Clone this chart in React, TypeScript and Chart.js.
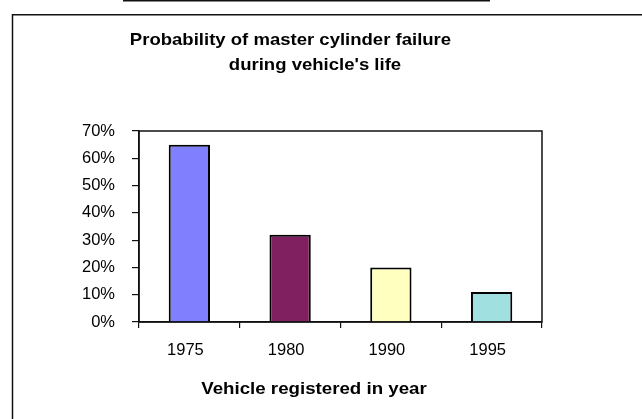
import React, { useEffect, useRef } from "react";
import { Chart, registerables } from "chart.js";

Chart.register(...registerables);

const categories = ["1975", "1980", "1990", "1995"];
const failureProbability = [65, 32, 20, 11];
const barColors = ["#8080FF", "#802060", "#FFFFC0", "#A0E0E0"];
const yMax = 70;
const yStep = 10;
const titleLines = ["Probability of master cylinder failure", "during vehicle's life"];
const xAxisTitle = "Vehicle registered in year";

const FONT = '"Liberation Sans", Arial, Helvetica, sans-serif';

function stretchedText(ctx: any, text: string, x: number, y: number, sx: number) {
  ctx.save();
  ctx.translate(x, y);
  ctx.scale(sx, 1);
  ctx.fillText(text, 0, 0);
  ctx.restore();
}

const decorPlugin = {
  id: "decor",
  beforeDraw(chart: any) {
    const { ctx, width, height } = chart;
    ctx.save();
    ctx.fillStyle = "#ffffff";
    ctx.fillRect(0, 0, width, height);
    ctx.strokeStyle = "#111";
    ctx.lineWidth = 1.5;
    ctx.beginPath();
    ctx.moveTo(12.5, height + 2);
    ctx.lineTo(12.5, 14.75);
    ctx.lineTo(width + 2, 14.75);
    ctx.stroke();
    ctx.beginPath();
    ctx.moveTo(123, 0.75);
    ctx.lineTo(490, 0.75);
    ctx.stroke();
    ctx.restore();
  },
  afterDraw(chart: any) {
    const { ctx, chartArea } = chart;
    ctx.save();
    ctx.strokeStyle = "#111";
    ctx.lineWidth = 1.5;
    ctx.strokeRect(
      chartArea.left,
      chartArea.top,
      chartArea.right - chartArea.left,
      chartArea.bottom - chartArea.top
    );
    ctx.fillStyle = "#000";
    ctx.font = `bold 17px ${FONT}`;
    ctx.textAlign = "center";
    ctx.textBaseline = "alphabetic";
    stretchedText(ctx, titleLines[0], 290.5, 45, 1.09);
    stretchedText(ctx, titleLines[1], 315, 70, 1.09);
    stretchedText(ctx, xAxisTitle, 314, 394, 1.1);
    ctx.restore();
  },
};

export default function App() {
  const ref = useRef<HTMLCanvasElement | null>(null);

  useEffect(() => {
    if (!ref.current) return;
    const chart = new Chart(ref.current, {
      type: "bar",
      data: {
        labels: categories,
        datasets: [
          {
            data: failureProbability,
            backgroundColor: barColors,
            borderColor: "#000",
            borderWidth: 2,
            categoryPercentage: 1,
            barPercentage: 0.41,
          },
        ],
      },
      options: {
        animation: false,
        responsive: false,
        devicePixelRatio: 1,
        layout: { padding: { top: 131, right: 100, left: 0, bottom: 0 } },
        plugins: {
          legend: { display: false },
          title: { display: false },
          tooltip: { enabled: false },
        },
        scales: {
          x: {
            afterFit: (s: any) => {
              s.height = 97;
            },
            grid: {
              offset: true,
              drawOnChartArea: false,
              drawTicks: true,
              tickLength: 6,
              color: "#111",
              lineWidth: 1.2,
            },
            border: { display: true, color: "#111", width: 1.5 },
            ticks: {
              color: "#000",
              padding: 13,
              labelOffset: -4,
              font: { family: FONT, size: 16.5 },
            },
          },
          y: {
            min: 0,
            max: yMax,
            afterFit: (s: any) => {
              s.width = 139;
            },
            grid: {
              drawOnChartArea: false,
              drawTicks: true,
              tickLength: 7,
              color: "#111",
              lineWidth: 1.2,
            },
            border: { display: true, color: "#111", width: 1.5 },
            ticks: {
              stepSize: yStep,
              color: "#000",
              padding: 17,
              font: { family: FONT, size: 16.5 },
              callback: (v: any) => `${v}%`,
            },
          },
        },
      },
      plugins: [decorPlugin],
    });
    return () => chart.destroy();
  }, []);

  return (
    <div style={{ position: "absolute", left: 0, top: 0, width: 642, height: 419 }}>
      <canvas ref={ref} width={642} height={419} style={{ display: "block", width: 642, height: 419 }} />
    </div>
  );
}
